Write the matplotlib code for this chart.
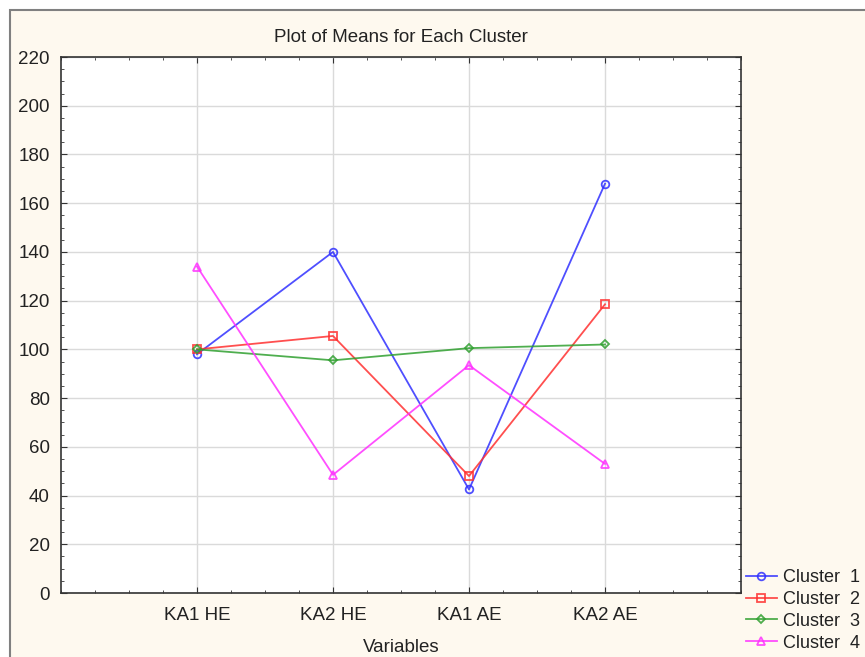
import matplotlib
matplotlib.use("Agg")
import matplotlib.pyplot as plt
from matplotlib.patches import Rectangle
from matplotlib.ticker import MultipleLocator

plt.rcParams['font.family'] = ['Liberation Sans', 'DejaVu Sans']

variables = ["KA1 HE", "KA2 HE", "KA1 AE", "KA2 AE"]
cluster1 = [98, 140, 42.5, 168]
cluster2 = [100, 105.5, 48, 118.5]
cluster3 = [100, 95.5, 100.5, 102]
cluster4 = [134, 48.5, 93.5, 53]
series_names = ["Cluster  1", "Cluster  2", "Cluster  3", "Cluster  4"]
y_ticks = [0, 20, 40, 60, 80, 100, 120, 140, 160, 180, 200, 220]

W, H = 865, 657
fig = plt.figure(figsize=(W / 100, H / 100), dpi=100)
fig.patch.set_facecolor("white")
bg = Rectangle((10 / W, -0.01), 1.0, 1.01 - 10 / H, transform=fig.transFigure,
               facecolor="#FEF9EF", edgecolor="#808080", linewidth=1.5, zorder=-5)
fig.patches.append(bg)

ax = fig.add_axes([61 / W, 1 - 593 / H, (741 - 61) / W, (593 - 57) / H])
ax.set_facecolor("white")

x = list(range(1, len(variables) + 1))
styles = [
    (cluster1, "#3030FF", "o"),
    (cluster2, "#FF3030", "s"),
    (cluster3, "#30A030", "D"),
    (cluster4, "#FF30FF", "^"),
]
for (vals, col, mk), name in zip(styles, series_names):
    ax.plot(x, vals, color=col, marker=mk, markersize=5.5 if mk != "D" else 4.5,
            markerfacecolor="none", markeredgecolor=col, markeredgewidth=1.3,
            linewidth=1.3, alpha=0.85, label=name, zorder=3)

ax.set_xlim(0, 5)
ax.set_ylim(0, 220)
ax.set_xticks(x)
ax.set_xticklabels(variables)
ax.xaxis.set_minor_locator(MultipleLocator(0.25))
ax.set_yticks(y_ticks)
ax.yaxis.set_minor_locator(MultipleLocator(5))
ax.tick_params(which="both", direction="in", top=True, right=True, colors="#333333",
               labelsize=13.5, labelcolor="#222222")
ax.tick_params(which="major", length=4)
ax.tick_params(which="minor", length=2.5)
ax.tick_params(axis="x", which="major", pad=10)
ax.tick_params(axis="y", which="major", pad=8)
ax.grid(True, which="major", color="#DADADA", linewidth=1)
ax.set_axisbelow(True)
for s in ax.spines.values():
    s.set_color("#333333")
    s.set_linewidth(1.2)

ax.set_title("Plot of Means for Each Cluster", fontsize=13.5, color="#222222", pad=11)
ax.set_xlabel("Variables", fontsize=13.5, color="#222222", labelpad=11)

leg = fig.legend(loc="upper left", bbox_to_anchor=(746 / W, 1 - 569 / H),
                 frameon=False, fontsize=13, handlelength=1.7, borderaxespad=0,
                 borderpad=0, labelspacing=0.27, handletextpad=0.35)
for t in leg.get_texts():
    t.set_color("#222222")

fig.savefig("out.png", dpi=100, facecolor=fig.get_facecolor())
